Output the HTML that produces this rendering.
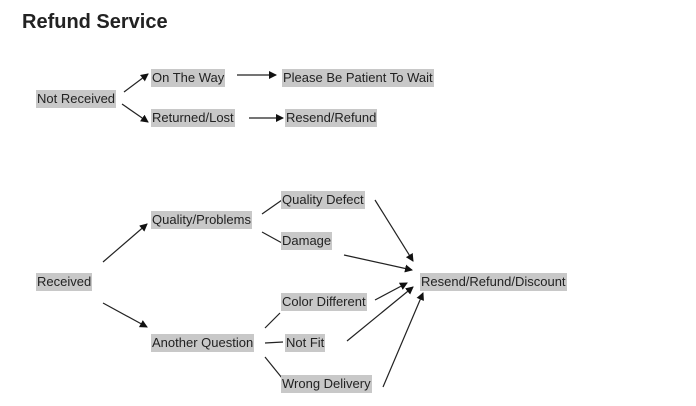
<!DOCTYPE html>
<html><head><style>
body{margin:0;width:696px;height:406px;background:#fff;position:relative;overflow:hidden;font-family:"Liberation Sans",Arial,sans-serif}
.t{position:absolute;left:22px;top:11px;font-size:20px;font-weight:bold;color:#222}
.l{position:absolute;background:#c8c8c8;font-size:13px;color:#222;height:18px;line-height:18px;white-space:nowrap;padding:0 1px}
svg{position:absolute;left:0;top:0}
</style></head><body>
<div class="t">Refund Service</div>
<svg width="696" height="406">
<defs><marker id="a" markerWidth="8" markerHeight="8" refX="7" refY="4" orient="auto" markerUnits="userSpaceOnUse"><path d="M0,0L8,4L0,8z" fill="#111"/></marker></defs>
<g stroke="#222" stroke-width="1.2" fill="none">
<line x1="124" y1="92" x2="148" y2="74" marker-end="url(#a)"/>
<line x1="122" y1="104" x2="148" y2="122" marker-end="url(#a)"/>
<line x1="237" y1="75" x2="276" y2="75" marker-end="url(#a)"/>
<line x1="249" y1="118" x2="283" y2="118" marker-end="url(#a)"/>
<line x1="103" y1="262" x2="147" y2="224" marker-end="url(#a)"/>
<line x1="103" y1="303" x2="147" y2="327" marker-end="url(#a)"/>
<line x1="262" y1="214" x2="282" y2="200"/>
<line x1="262" y1="232" x2="282" y2="243"/>
<line x1="265" y1="328" x2="280" y2="313"/>
<line x1="265" y1="343" x2="283" y2="342"/>
<line x1="265" y1="357" x2="282" y2="378"/>
<line x1="375" y1="200" x2="413" y2="261" marker-end="url(#a)"/>
<line x1="344" y1="255" x2="412" y2="270" marker-end="url(#a)"/>
<line x1="375" y1="300" x2="407" y2="283" marker-end="url(#a)"/>
<line x1="347" y1="341" x2="413" y2="287" marker-end="url(#a)"/>
<line x1="383" y1="387" x2="423" y2="293" marker-end="url(#a)"/>
</g></svg>
<div class="l" style="left:36px;top:90px">Not Received</div>
<div class="l" style="left:151px;top:69px">On The Way</div>
<div class="l" style="left:282px;top:69px">Please Be Patient To Wait</div>
<div class="l" style="left:151px;top:109px">Returned/Lost</div>
<div class="l" style="left:285px;top:109px">Resend/Refund</div>
<div class="l" style="left:151px;top:211px">Quality/Problems</div>
<div class="l" style="left:281px;top:191px">Quality Defect</div>
<div class="l" style="left:281px;top:232px">Damage</div>
<div class="l" style="left:36px;top:273px">Received</div>
<div class="l" style="left:420px;top:273px">Resend/Refund/Discount</div>
<div class="l" style="left:281px;top:293px">Color Different</div>
<div class="l" style="left:151px;top:334px">Another Question</div>
<div class="l" style="left:285px;top:334px">Not Fit</div>
<div class="l" style="left:281px;top:375px">Wrong Delivery</div>
</body></html>
